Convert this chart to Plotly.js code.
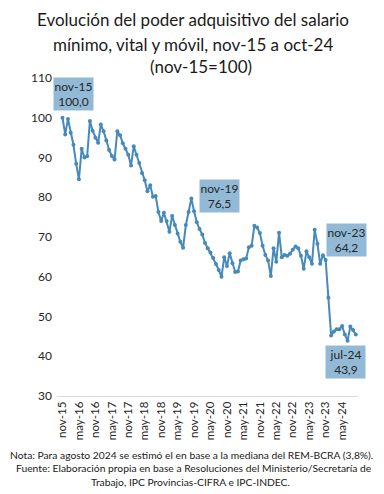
<!DOCTYPE html>
<html>
<head>
<meta charset="utf-8">
<script src="https://cdn.plot.ly/plotly-3.0.1.min.js"></script>
<style>html,body{margin:0;padding:0;background:#fff;}#chart{width:384px;height:494px;}</style>
</head>
<body>
<div id="chart"></div>
<script>
const months = [
 "nov-15","dic-15","ene-16","feb-16","mar-16","abr-16","may-16","jun-16","jul-16","ago-16","sep-16","oct-16",
 "nov-16","dic-16","ene-17","feb-17","mar-17","abr-17","may-17","jun-17","jul-17","ago-17","sep-17","oct-17",
 "nov-17","dic-17","ene-18","feb-18","mar-18","abr-18","may-18","jun-18","jul-18","ago-18","sep-18","oct-18",
 "nov-18","dic-18","ene-19","feb-19","mar-19","abr-19","may-19","jun-19","jul-19","ago-19","sep-19","oct-19",
 "nov-19","dic-19","ene-20","feb-20","mar-20","abr-20","may-20","jun-20","jul-20","ago-20","sep-20","oct-20",
 "nov-20","dic-20","ene-21","feb-21","mar-21","abr-21","may-21","jun-21","jul-21","ago-21","sep-21","oct-21",
 "nov-21","dic-21","ene-22","feb-22","mar-22","abr-22","may-22","jun-22","jul-22","ago-22","sep-22","oct-22",
 "nov-22","dic-22","ene-23","feb-23","mar-23","abr-23","may-23","jun-23","jul-23","ago-23","sep-23","oct-23",
 "nov-23","dic-23","ene-24","feb-24","mar-24","abr-24","may-24","jun-24","jul-24","ago-24","sep-24","oct-24"
];
const salario = [
 100.0,95.8,99.7,96.2,93.2,88.4,84.5,92.2,90.0,90.3,99.2,96.7,
 95.0,93.7,98.3,96.6,94.3,91.9,90.4,89.5,96.6,95.6,93.6,92.2,
 90.7,88.0,92.8,90.7,88.6,86.1,84.3,81.5,83.0,80.1,80.3,76.3,
 74.0,76.1,74.0,71.3,75.3,73.0,70.9,68.8,67.3,73.0,76.3,79.7,
 76.5,73.7,72.0,70.6,68.5,67.2,66.1,64.7,63.2,61.7,60.0,64.9,
 62.7,65.9,63.4,61.2,61.3,64.1,64.4,64.6,67.4,67.8,72.8,72.4,
 71.0,67.8,65.5,64.1,60.2,67.2,63.8,71.1,64.9,65.5,65.3,65.8,
 66.8,67.6,67.2,65.3,62.0,66.4,64.9,63.3,71.8,68.3,63.3,65.4,
 64.2,54.7,45.2,46.2,46.8,46.8,47.6,45.5,43.9,47.5,46.6,45.5
];
const tickLabels = ["nov-15","may-16","nov-16","may-17","nov-17","may-18","nov-18","may-19","nov-19","may-20","nov-20","may-21","nov-21","may-22","nov-22","may-23","nov-23","may-24"];
const tickIdx = tickLabels.map(t => months.indexOf(t));
const highlights = [
  {label:"nov-15", shiftX:11, shiftY:24},
  {label:"nov-19", shiftX:25, shiftY:15},
  {label:"nov-23", shiftX:21, shiftY:20},
  {label:"jul-24", shiftX:-2, shiftY:-21}
];
const titleLines = ['Evolución del poder adquisitivo del salario', 'mínimo, vital y móvil, nov-15 a oct-24', '(nov-15=100)'];
const noteLines = ['Nota: Para agosto 2024 se estimó el en base a la mediana del REM-BCRA (3,8%).', 'Fuente: Elaboración propia en base a Resoluciones del Ministerio/Secretaría de', 'Trabajo, IPC Provincias-CIFRA e IPC-INDEC.'];
const xIdx = months.map((m,i)=>i);
const FONT = "Lato, 'Open Sans', sans-serif";

const trace = {
  x: xIdx, y: salario, type:'scatter', mode:'lines+markers',
  line:{color:'#4689ba', width:2},
  marker:{color:'#4689ba', size:4},
  hoverinfo:'skip'
};

const annotations = highlights.map(h => {
  const i = months.indexOf(h.label);
  return {
    x:i, y:salario[i], xref:'x', yref:'y', showarrow:false,
    xshift:h.shiftX, yshift:h.shiftY,
    text: h.label + '<br>' + salario[i].toFixed(1).replace('.', ','),
    font:{family:FONT, size:12, color:'#262626'},
    bgcolor:'#92bad6', width:37, height:30, borderpad:1
  };
});
const titlePos = [[0.4518, 1.1824], [0.4518, 1.1053], [0.4784, 1.0346]];
titleLines.forEach((t, k) => annotations.push({
  xref:'paper', yref:'paper', x:titlePos[k][0], y:titlePos[k][1], xanchor:'center', yanchor:'middle', showarrow:false,
  text:t, font:{family:FONT, size:17, color:'#1a1a1a'}
}));
const notePos = [[0.4485, -0.1855], [0.4535, -0.2264], [0.4435, -0.2704]];
noteLines.forEach((t, k) => annotations.push({
  xref:'paper', yref:'paper', x:notePos[k][0], y:notePos[k][1], xanchor:'center', yanchor:'middle', showarrow:false,
  text:t, font:{family:FONT, size:10.3, color:'#1a1a1a'}
}));

const layout = {
  width:384, height:494,
  margin:{l:57, r:26, t:78, b:98},
  paper_bgcolor:'#fff', plot_bgcolor:'#fff',
  showlegend:false,
  xaxis:{
    type:'linear', range:[-2, 107.8],
    tickmode:'array', tickvals:tickIdx, ticktext:tickLabels, tickangle:-90,
    tickfont:{family:FONT, size:11.5, color:'#262626'},
    showgrid:false, zeroline:false, showline:true, linecolor:'#d9d9d9', linewidth:1,
    ticks:'', ticklen:0
  },
  yaxis:{
    range:[30,110], tickvals:[30,40,50,60,70,80,90,100,110],
    tickfont:{family:FONT, size:12, color:'#262626'},
    showgrid:false, zeroline:false, showline:false, ticks:'', ticklabelstandoff:4
  },
  annotations: annotations
};

Plotly.newPlot('chart', [trace], layout, {displayModeBar:false, staticPlot:true});
</script>
</body>
</html>
